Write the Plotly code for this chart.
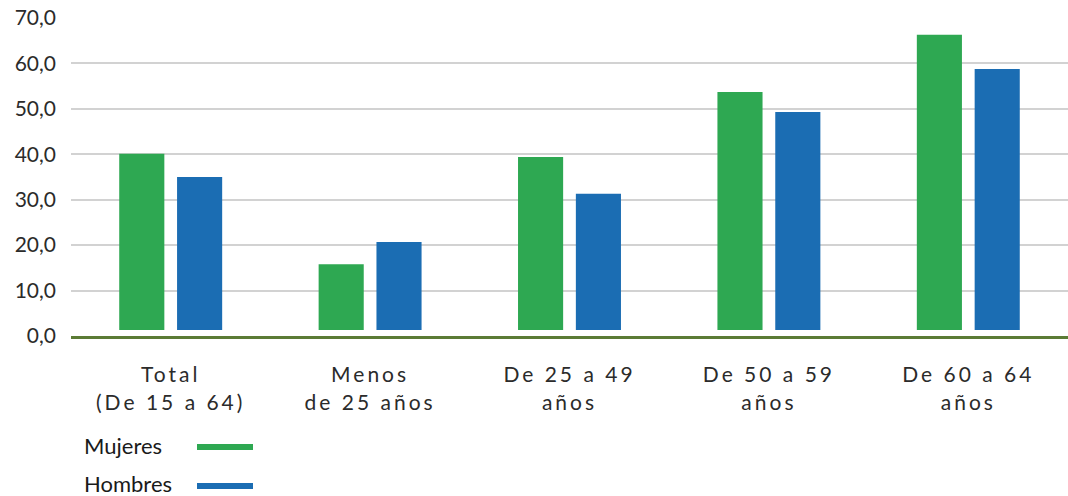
import plotly.graph_objects as go

categories = ["Total<br>(De 15 a 64)", "Menos<br>de 25 años", "De 25 a 49<br>años",
              "De 50 a 59<br>años", "De 60 a 64<br>años"]
mujeres = [40.1, 15.8, 39.4, 53.7, 66.3]
hombres = [35.0, 20.7, 31.3, 49.3, 58.8]
series_names = ["Mujeres", "Hombres"]
colors = ["#2ea852", "#1b6db3"]
BAR_BASE = 1.3

FONT = "Lato"
TXT = "#2b2b2b"

def spaced(label, px=3):
    return "<br>".join(f'<span style="letter-spacing:{px}px">{part}</span>'
                       for part in label.split("<br>"))

fig = go.Figure()
for name, vals, col in zip(series_names, [mujeres, hombres], colors):
    fig.add_trace(go.Bar(
        x=categories, y=[v - BAR_BASE for v in vals], base=BAR_BASE,
        name=name, marker=dict(color=col, line=dict(width=0)),
        showlegend=False,
    ))

L, T, B = 71, 18, 160
fig.update_layout(
    width=1068, height=496,
    margin=dict(l=L, r=0, t=T, b=B),
    paper_bgcolor="white", plot_bgcolor="white",
    barmode="group", bargap=0.42, bargroupgap=0.22,
    separators=",.",
    font=dict(family=FONT, size=21, color=TXT),
    xaxis=dict(
        tickmode="array", tickvals=categories,
        ticktext=[spaced(c) for c in categories],
        showline=True, linecolor="#5b7b35", linewidth=3,
        showgrid=False, ticks="", ticklabelstandoff=18,
        tickfont=dict(family=FONT, size=21, color=TXT),
    ),
    yaxis=dict(
        range=[0, 70], dtick=10, tickformat=".1f",
        showgrid=True, gridcolor="#d2d2d2", gridwidth=1.5,
        zeroline=False, ticks="", ticklabelstandoff=14,
        tickfont=dict(family=FONT, size=21, color=TXT),
    ),
)

plot_w = 1068 - L
plot_h = 496 - T - B
zero_y = 496 - B
legend_y = [445, 484]
for name, col, yy in zip(series_names, colors, legend_y):
    fig.add_annotation(xref="paper", yref="paper",
                       x=(82 - L) / plot_w, y=(zero_y - yy) / plot_h,
                       text=name, showarrow=False, xanchor="left", yanchor="middle",
                       font=dict(family=FONT, size=22, color="#1a1a1a"))
    fig.add_shape(type="line", xref="paper", yref="paper",
                  x0=(197 - L) / plot_w, x1=(253 - L) / plot_w,
                  y0=(zero_y - (yy + 2)) / plot_h, y1=(zero_y - (yy + 2)) / plot_h,
                  line=dict(color=col, width=6))

fig.write_html("out.html", config={"displayModeBar": False},
               post_script="document.body.style.margin='0';")
